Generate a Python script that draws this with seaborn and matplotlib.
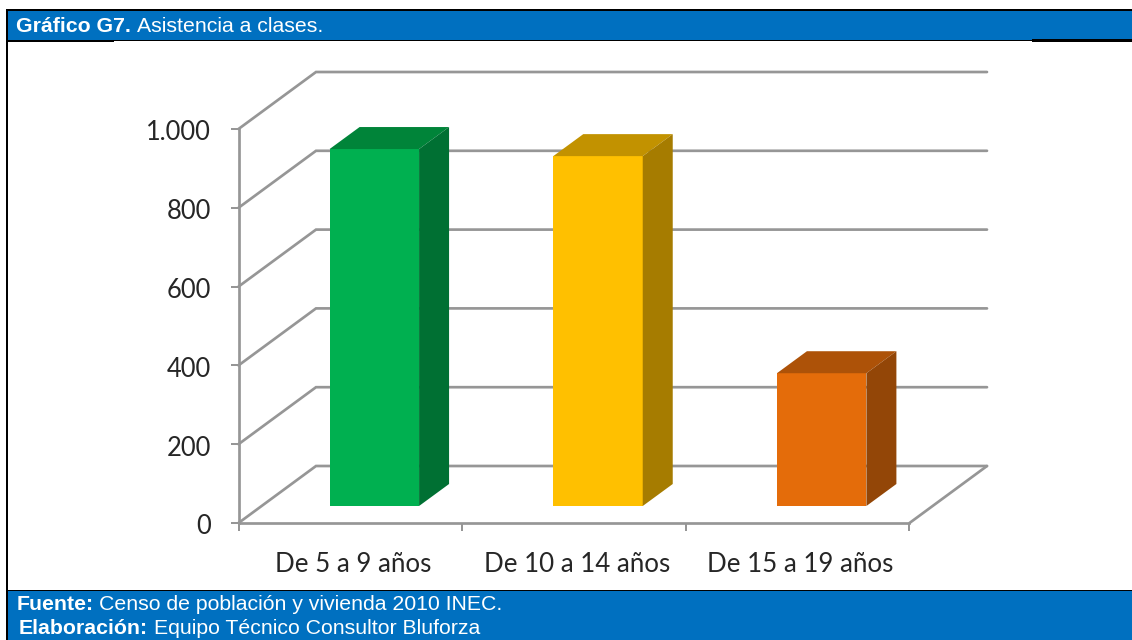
#!/usr/bin/env python3
# -*- coding: utf-8 -*-
"""Gráfico G7: asistencia a clases, barras con falso 3D sobre seaborn."""

import matplotlib
matplotlib.use('Agg')
import matplotlib.pyplot as plt
import pandas as pd
import seaborn as sns
from matplotlib.patches import Polygon, Rectangle
from matplotlib.transforms import Affine2D

# datos
GRUPOS = ['De 5 a 9 años', 'De 10 a 14 años', 'De 15 a 19 años']
VALORES = [906, 888, 337]
Y_TICKS = [0, 200, 400, 600, 800, 1000]
Y_LABELS = ['0', '200', '400', '600', '800', '1.000']

# colores
COLOR_FRENTE = ['#00B050', '#FFC000', '#E46C0A']
COLOR_TECHO = ['#008439', '#C29200', '#AD5208']
COLOR_LADO = ['#007033', '#A67C00', '#934607']
GRIS = '#969696'
AZUL = '#0070C0'

W, H = 1132, 640
PX = 0.72  # 1 px en puntos a dpi 100

# geometria en pixeles de la imagen
AX_LEFT, AX_RIGHT = 238.5, 909.5
AX_TOP, AX_BOTTOM = 129, 523
PX_X = (AX_RIGHT - AX_LEFT) / 3
PX_Y = (AX_BOTTOM - AX_TOP) / 1000
LW = 2.7 * PX

sns.set_theme(style='white')
plt.rcParams['font.family'] = ['Liberation Sans', 'DejaVu Sans']


def rect(fig, x0, y0, x1, y1, color, z=1):
    """Rectangulo de figura dado en pixeles desde arriba a la izquierda."""
    fig.add_artist(Rectangle((x0 / W, 1 - y1 / H), (x1 - x0) / W, (y1 - y0) / H,
                             transform=fig.transFigure, facecolor=color,
                             edgecolor='none', zorder=z))


def marco(fig):
    rect(fig, 7, 10, W, 40, AZUL)
    rect(fig, 7, 591, W, H, AZUL)
    rect(fig, 6, 9, W, 11, 'black', 2)
    rect(fig, 6, 9, 8, H, 'black', 2)
    # lineas de las tablas, mas gruesas en los extremos
    rect(fig, 8, 40, W, 41, 'black', 2)
    rect(fig, 8, 41, 114, 42, 'black', 2)
    rect(fig, 1032, 39.5, W, 41.5, 'black', 2)
    rect(fig, 8, 590, W, 591, 'black', 2)
    rect(fig, 8, 589.5, 114, 590.5, 'black', 2)
    rect(fig, 1032, 589.5, W, 591, 'black', 2)

    textos = [
        (16, 26, 'Gráfico G7.', 'bold'),
        (137, 26, 'Asistencia a clases.', 'normal'),
        (17, 604, 'Fuente:', 'bold'),
        (99, 604, 'Censo de población y vivienda 2010 INEC.', 'normal'),
        (19, 628, 'Elaboración:', 'bold'),
        (154, 628, 'Equipo Técnico Consultor Bluforza', 'normal'),
    ]
    for x, y, s, peso in textos:
        fig.text(x / W, 1 - y / H, s, color='white', fontsize=15.3, fontweight=peso,
                 ha='left', va='center', zorder=3)


def paredes(ax):
    """Lineas de las paredes y el piso detras de las barras."""
    dx = 77.5 / PX_X
    dy = 57 / PX_Y
    x0, x1 = -0.5, 2.5
    for v in Y_TICKS:
        ax.plot([x0, x0 + dx, x1 + dx], [v, v + dy, v + dy], color=GRIS,
                lw=LW, clip_on=False, zorder=1, solid_joinstyle='miter')
    ax.plot([x1, x1 + dx], [0, dy], color=GRIS, lw=LW, clip_on=False, zorder=1)


def barras_3d(ax):
    df = pd.DataFrame({'grupo': GRUPOS, 'valor': VALORES})
    sns.barplot(data=df, x='grupo', y='valor', hue='grupo', palette=COLOR_FRENTE,
                saturation=1, width=0.4, legend=False, linewidth=0, ax=ax, zorder=3)

    # plano de las barras: un poco por detras del eje frontal
    sx, sy = 24 / PX_X, 17 / PX_Y
    fondo_x, fondo_y = 30 / PX_X, 22 / PX_Y
    mover = Affine2D().translate(sx, sy) + ax.transData

    for i, p in enumerate(list(ax.patches)):
        p.set_transform(mover)
        p.set_clip_on(False)
        a, b = p.get_x(), p.get_x() + p.get_width()
        h = p.get_height()
        techo = [(a, h), (b, h), (b + fondo_x, h + fondo_y), (a + fondo_x, h + fondo_y)]
        lado = [(b, 0), (b + fondo_x, fondo_y), (b + fondo_x, h + fondo_y), (b, h)]
        ax.add_patch(Polygon(techo, closed=True, facecolor=COLOR_TECHO[i], edgecolor='none',
                             transform=mover, clip_on=False, zorder=3))
        ax.add_patch(Polygon(lado, closed=True, facecolor=COLOR_LADO[i], edgecolor='none',
                             transform=mover, clip_on=False, zorder=3))


def main():
    fig = plt.figure(figsize=(W / 100, H / 100), dpi=100, facecolor='white')
    marco(fig)

    ax = fig.add_axes([AX_LEFT / W, 1 - AX_BOTTOM / H,
                       (AX_RIGHT - AX_LEFT) / W, (AX_BOTTOM - AX_TOP) / H])
    ax.patch.set_alpha(0)

    barras_3d(ax)
    paredes(ax)

    ax.set_xlim(-0.5, 2.5)
    ax.set_ylim(0, 1000)
    ax.set_xlabel('')
    ax.set_ylabel('')
    ax.set_yticks(Y_TICKS)
    ax.set_yticklabels(Y_LABELS, fontfamily='Lato', fontsize=18.4, color='#262626')
    ax.set_xticks([0, 1, 2])
    ax.set_xticklabels(GRUPOS, fontfamily='Lato', fontsize=18.6, color='#262626')
    ax.set_xticks([-0.5, 0.5, 1.5, 2.5], minor=True)

    ax.tick_params(axis='y', left=True, length=8 * PX, width=2 * PX, color=GRIS, pad=14)
    ax.tick_params(axis='x', which='major', bottom=False, pad=15)
    ax.tick_params(axis='x', which='minor', bottom=True, length=8 * PX, width=2 * PX, color=GRIS)

    # pequeños ajustes de las etiquetas respecto del original
    for t in ax.get_xticklabels():
        t.set_transform(t.get_transform() + Affine2D().translate(3, 0))
    for t in ax.get_yticklabels():
        t.set_transform(t.get_transform() + Affine2D().translate(0, -1.5))

    for lado in ['top', 'right']:
        ax.spines[lado].set_visible(False)
    for lado in ['left', 'bottom']:
        ax.spines[lado].set_color(GRIS)
        ax.spines[lado].set_linewidth(LW)

    fig.savefig('out.png', dpi=100)
    plt.close(fig)


if __name__ == '__main__':
    main()
